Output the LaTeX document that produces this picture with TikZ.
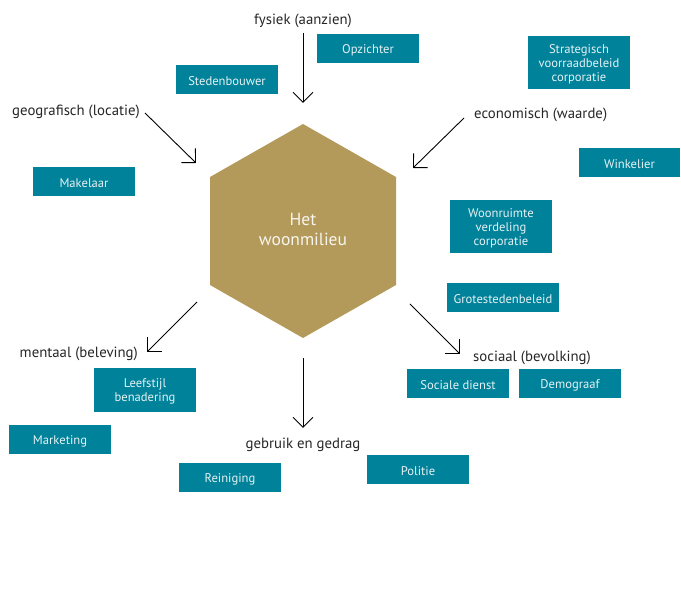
\documentclass[tikz,border=0pt]{standalone}
\usepackage{fontspec}
\setmainfont{PT Sans}
\usetikzlibrary{arrows.meta}
\definecolor{teal1}{HTML}{00829A}
\definecolor{gold1}{HTML}{B39A5A}
\definecolor{boxtext}{HTML}{E6F2F4}
\begin{document}
\begin{tikzpicture}[x=1pt,y=-1pt,
  rolebox/.style={fill=teal1,text=boxtext,inner sep=0pt,align=center,yshift=-1.5pt,font=\fontsize{12.6}{14}\selectfont},
  aspect/.style={inner sep=0pt,yshift=-1.5pt,font=\fontsize{14.8}{16}\selectfont,text=black!85},
  arr/.style={-{Straight Barb[length=10pt,width=20pt]},line width=0.9pt}]
\useasboundingbox (0,0) rectangle (681,593);
% hexagon
\fill[gold1] (303,124) -- (396,177) -- (396,285) -- (303,338) -- (210,285) -- (210,177) -- cycle;
\node[align=center,text=white!90!gold1,font=\fontsize{17.5}{20}\selectfont] (hex) at (303,229) {Het\\woonmilieu};
% aspects
\node[aspect] (fys) at (303,19) {fysiek (aanzien)};
\node[aspect,anchor=west] (geo) at (12,110) {geografisch (locatie)};
\node[aspect,anchor=west] (eco) at (474,113) {economisch (waarde)};
\node[aspect,anchor=east] (men) at (138,352) {mentaal (beleving)};
\node[aspect,anchor=west] (soc) at (473,356) {sociaal (bevolking)};
\node[aspect] (geb) at (303,443) {gebruik en gedrag};
% arrow endpoints
\coordinate (a1s) at (303,33); \coordinate (a1e) at (303,103);
\coordinate (a2s) at (145,113); \coordinate (a2e) at (196,163);
\coordinate (a3s) at (464,118); \coordinate (a3e) at (413,168);
\coordinate (a4s) at (197,302); \coordinate (a4e) at (147,352);
\coordinate (a5s) at (410,304); \coordinate (a5e) at (460,354);
\coordinate (a6s) at (303,358); \coordinate (a6e) at (303,428);
\draw[arr] (a1s) -- (a1e);
\draw[arr] (a2s) -- (a2e);
\draw[arr] (a3s) -- (a3e);
\draw[arr] (a4s) -- (a4e);
\draw[arr] (a5s) -- (a5e);
\draw[arr] (a6s) -- (a6e);
% role boxes
\newcommand{\rbox}[6]{\fill[teal1] (#2,#3) rectangle (#4,#5); \node[rolebox] (#1) at ({(#2+#4)/2},{(#3+#5)/2}) {#6};}
\rbox{opz}{317}{34}{419}{63}{Opzichter}
\rbox{ste}{176}{65}{278}{94}{Stedenbouwer}
\rbox{str}{528}{36}{630}{89}{Strategisch\\voorraadbeleid\\corporatie}
\rbox{win}{579}{148}{680}{177}{Winkelier}
\rbox{mak}{33}{167}{135}{196}{Makelaar}
\rbox{woo}{450}{200}{552}{253}{Woonruimte\\verdeling\\corporatie}
\rbox{gro}{447}{283}{559}{312}{Grotestedenbeleid}
\rbox{lee}{94}{368}{196}{412}{Leefstijl\\benadering}
\rbox{soci}{407}{369}{509}{398}{Sociale dienst}
\rbox{dem}{519}{369}{621}{398}{Demograaf}
\rbox{mar}{9}{425}{111}{454}{Marketing}
\rbox{rei}{179}{463}{281}{492}{Reiniging}
\rbox{pol}{367}{455}{469}{484}{Politie}
\end{tikzpicture}
\end{document}
